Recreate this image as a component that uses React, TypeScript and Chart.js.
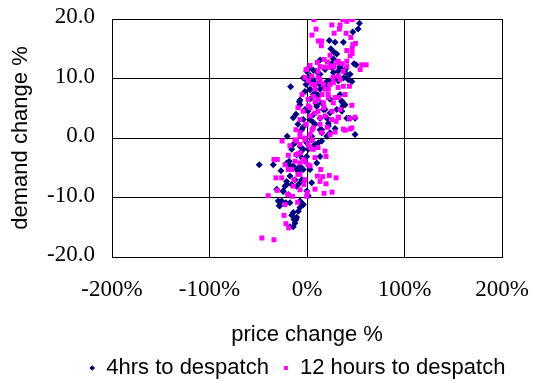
import { useEffect, useRef } from 'react';
import { Chart, registerables } from 'chart.js';

Chart.register(...registerables);

const SANS = "'Liberation Sans', Arial, sans-serif";
const SERIF = "'Liberation Serif', 'Times New Roman', serif";

const seriesNames = ['4hrs to despatch', '12 hours to despatch'];
const xTickValues = [-200, -100, 0, 100, 200];
const yTickValues = [-20, -10, 0, 10, 20];

// [price change %, demand change %]
const fourHrsPoints: [number, number][] = [
  [53.8, 19.3], [52.4, 18.3], [47.0, 17.8], [22.9, 16.4], [28.8, 16.1], [37.3, 16.1], [24.4, 15.0], [27.8, 14.4],
  [30.5, 14.1], [27.0, 13.3], [13.4, 13.1], [25.0, 12.5], [25.0, 11.9], [33.9, 12.0], [48.3, 12.5], [50.4, 12.3],
  [2.4, 11.9], [6.5, 11.4], [-16.8, 8.6], [-7.2, 6.4], [-14.1, 3.4], [-20.3, 0.3], [49.3, 0.6], [42.5, 3.3],
  [49.3, 3.3], [36.7, 5.4], [35.7, 6.2], [-49.0, -4.5], [-34.6, -4.5], [-26.7, -5.5], [-18.2, -3.9], [-18.2, -4.5],
  [-31.1, -8.6], [-29.5, -10.6], [-27.8, -11.4], [-21.6, -10.9], [-17.5, -10.9], [-14.1, -12.5], [-8.9, -12.3],
  [-3.8, -11.2], [-10.6, -13.3], [-12.3, -14.3], [-14.1, -14.9], [-15.7, -13.0], [-13.4, -13.7], [-26.0, -10.6],
  [-28.5, -11.4], [-7.2, -11.7], [-4.4, -11.1], [-11.3, -13.7], [-17.5, -14.9], [-7.2, -10.6], [-24.4, -8.9],
  [1.3, -9.7], [-0.3, -8.9],
  [-3.8, 10.1], [1.3, 9.5], [6.5, 9.8], [11.6, 9.2], [15.1, 8.7], [3.1, 8.1], [-2.1, 7.8], [6.5, 7.3], [20.3, 9.5],
  [28.8, 10.0], [37.3, 10.1], [42.5, 9.8], [46.0, 9.5], [33.9, 7.3], [35.7, 6.1], [39.1, 5.6], [-7.9, 6.1],
  [-7.2, 5.6], [10.0, 5.3], [15.1, 5.9], [6.5, 3.9], [13.4, 3.3], [20.3, 3.3], [21.9, 2.5], [40.8, 3.3], [44.2, 3.3],
  [28.8, 1.6], [15.1, 1.4], [35.7, 4.5], [-14.1, -1.1], [-15.7, -1.9], [-7.2, -2.5], [1.3, -1.9], [6.5, -1.4],
  [11.6, -0.8], [15.1, -0.5], [20.3, 0.3], [23.6, 0.9], [15.1, 0.9], [4.8, 0.3], [-2.1, -3.9], [-7.2, -4.7],
  [-10.6, -5.3], [3.1, -5.3], [4.8, -7.5], [-5.4, -7.0], [-15.7, -7.8], [-20.9, -7.3], [-10.6, -8.1], [10.0, -4.2],
  [13.4, -3.1], [-20.9, -4.2], [-22.6, -8.1],
  [13.4, 10.7], [18.5, 11.5], [9.3, 11.2], [31.9, 11.2], [39.1, 11.5], [44.2, 10.7], [3.1, 10.5], [-1.0, 9.8],
  [-2.1, 4.8], [3.1, 3.1], [8.2, 2.3], [-9.3, 2.3], [-4.1, 1.8], [18.5, 4.8], [23.6, 6.5], [11.3, 7.2],
  [-11.3, 4.0], [1.0, 4.5],
  [-0.3, 11.2], [3.1, 10.4], [6.5, 9.6], [-1.0, 9.0], [3.1, 8.2], [8.2, 7.6], [13.4, 8.2], [18.5, 8.7],
  [23.6, 9.6], [27.0, 11.0], [33.9, 11.8], [39.1, 11.0], [40.8, 10.1], [32.2, 9.6], [3.1, 6.5], [10.0, 5.6],
  [16.8, 4.8], [23.6, 4.2], [30.5, 4.8], [-0.3, 4.8], [-3.8, 3.1], [6.5, 2.6], [13.4, 1.4], [21.9, 2.0],
  [-5.4, 1.4],
  [-12.3, -0.8], [-7.2, -1.4], [-3.8, -1.9], [-0.3, -0.8], [4.8, -0.3], [8.2, -1.1], [-10.6, -2.8], [-5.4, -3.3],
  [-0.3, -3.1], [-14.1, -4.7], [-8.9, -5.6], [-3.8, -5.3], [-17.5, -6.4], [-12.3, -7.0], [-7.2, -7.5],
  [-20.9, -7.8], [-24.4, -9.0], [-19.2, -9.5],
];

const twelveHoursPoints: [number, number][] = [
  [7.2, 19.9], [36.7, 19.9], [40.8, 19.6], [46.3, 19.9], [25.4, 19.0], [33.9, 19.0], [9.3, 18.3], [27.8, 17.6],
  [33.2, 18.3], [40.1, 17.6], [5.1, 17.3], [44.9, 16.9], [11.6, 16.3], [15.1, 16.3], [14.7, 15.5], [49.7, 15.9],
  [40.8, 14.7], [46.3, 15.0], [46.3, 14.2], [44.2, 13.8], [17.5, 13.2], [20.9, 12.8], [10.6, 12.7], [13.4, 12.0],
  [56.2, 12.3], [60.7, 12.3], [54.5, 11.5], [35.7, 12.5], [40.8, 12.0], [18.5, 11.9], [47.0, 15.7],
  [37.3, 8.7], [43.5, 8.7], [46.0, 5.5], [49.3, 3.5], [43.5, 3.3], [44.2, 1.5], [37.3, 1.5], [46.0, 1.7],
  [28.8, 1.0], [39.1, 1.3],
  [-2.1, 10.2], [5.1, 9.0], [11.3, 10.2], [18.5, 8.2], [23.6, 9.0], [31.9, 8.5], [-5.1, 7.3], [1.0, 6.5],
  [8.2, 6.1], [15.4, 7.3], [21.6, 7.3], [28.8, 6.8], [-4.1, 4.5], [3.1, 5.1], [11.3, 4.5], [17.5, 5.1],
  [25.7, 4.5], [31.9, 3.5], [-7.2, 3.1], [-1.0, 2.3], [5.1, 1.4], [13.4, 2.3], [20.6, 1.8], [29.8, 2.8],
  [8.2, 8.2], [13.4, 9.5], [26.7, 10.2], [33.9, 9.8], [39.1, 7.3], [33.9, 4.8], [-9.3, 5.1], [-11.3, 1.4],
  [-25.6, -0.5], [-30.5, -3.6], [-33.9, -3.6], [22.9, -6.3], [29.8, -6.7], [19.5, -7.7], [19.5, -3.1],
  [18.5, -2.2], [14.1, -5.3], [8.2, -8.6], [17.5, -9.3], [25.7, -9.1], [16.1, -6.5], [10.6, -6.4], [13.4, -7.3],
  [-17.5, -1.3], [-19.2, -2.9], [-31.9, -6.7], [-26.0, -6.7], [-30.5, -8.8], [-14.7, -9.8], [-0.3, -9.8],
  [0.3, -9.2], [-39.8, -9.7], [-22.6, -11.2], [-23.6, -13.0], [-21.6, -14.4], [-18.8, -15.1], [-9.6, -10.8],
  [-46.3, -16.8], [-33.9, -17.1],
  [-12.3, -0.3], [-7.2, -1.1], [-2.1, -0.3], [3.1, -1.6], [-11.3, -2.8], [-4.1, -3.6], [-17.5, -5.3],
  [-9.3, -6.1], [1.0, -4.5], [8.2, -3.3], [-22.6, -4.5], [-13.4, -7.0], [-3.1, -7.8], [5.1, -0.3], [11.3, -1.6],
  [-7.2, -8.7], [-19.5, -9.5],
  [3.1, 12.2], [-1.0, 11.5], [11.3, 11.2], [21.6, 11.9], [27.8, 11.9], [31.9, 12.9], [23.6, 13.9],
  [-0.3, 11.5], [4.8, 10.4], [1.3, 9.6], [8.2, 9.0], [13.4, 9.8], [16.8, 9.0], [21.9, 8.2], [27.0, 9.3],
  [32.2, 10.4], [37.3, 11.2], [40.8, 12.9], [30.5, 12.7], [25.4, 12.1], [6.5, 7.0], [11.6, 6.5], [16.8, 5.9],
  [21.9, 6.8], [27.0, 5.9], [32.2, 6.8], [1.3, 5.4], [3.1, 3.7], [8.2, 4.2], [13.4, 3.4], [18.5, 3.7],
  [25.4, 3.1], [32.2, 3.4], [-1.0, 2.3], [6.5, 1.7], [15.1, 0.9], [23.6, 0.6], [-7.2, 0.3],
  [-7.2, 0.9], [-2.1, 0.0], [3.1, 0.6], [-10.6, -0.5], [1.3, -1.1], [6.5, -1.9], [-7.2, -2.5], [-2.1, -3.9],
  [3.1, -4.7], [-12.3, -3.9], [-15.7, -5.3], [-7.2, -6.1], [-2.1, -7.0], [-14.1, -8.1], [-19.2, -5.3],
  [-7.2, -4.2],
];

export default function App() {
  const ref = useRef<HTMLCanvasElement>(null);

  useEffect(() => {
    document.body.style.margin = '0';
    const canvas = ref.current;
    if (!canvas) return;
    const chart = new Chart(canvas, {
      type: 'scatter',
      data: {
        datasets: [
          {
            label: seriesNames[0],
            data: fourHrsPoints.map(([x, y]) => ({ x, y })),
            backgroundColor: '#000080',
            borderColor: '#000080',
            pointStyle: 'rectRot',
            pointRadius: 3.5,
            borderWidth: 0,
            order: 1,
          },
          {
            label: seriesNames[1],
            data: twelveHoursPoints.map(([x, y]) => ({ x, y })),
            backgroundColor: '#FF00FF',
            borderColor: '#FF00FF',
            pointStyle: 'rect',
            pointRadius: 3.5,
            borderWidth: 0,
            order: 0,
          },
        ],
      },
      options: {
        animation: false,
        responsive: true,
        maintainAspectRatio: false,
        layout: { padding: { left: 0, top: 19, right: 14.6, bottom: -6 } },
        plugins: {
          tooltip: { enabled: false },
          legend: {
            position: 'bottom',
            align: 'end',
            labels: {
              usePointStyle: true,
              boxWidth: 6,
              boxHeight: 4,
              padding: 14,
              color: '#000',
              font: { family: SANS, size: 22 },
              sort: (a: any, b: any) => a.datasetIndex - b.datasetIndex,
            },
          },
        },
        scales: {
          x: {
            type: 'linear',
            min: xTickValues[0],
            max: xTickValues[xTickValues.length - 1],
            afterBuildTicks: (s: any) => { s.ticks = xTickValues.map((v) => ({ value: v })); },
            afterFit: (s: any) => { s.height = 86; },
            ticks: {
              callback: (v: any) => `${v}%`,
              color: '#000',
              font: { family: SERIF, size: 23 },
              padding: 0,
              maxRotation: 0,
              autoSkip: false,
            },
            grid: { color: '#000', lineWidth: 1, drawTicks: true, tickLength: 19, tickColor: 'rgba(0,0,0,0)' },
            border: { color: '#000', width: 1 },
            title: {
              display: true,
              text: 'price change %',
              color: '#000',
              font: { family: SANS, size: 22 },
              padding: { top: 0, bottom: -5 },
            },
          },
          y: {
            type: 'linear',
            position: 'left',
            min: yTickValues[0],
            max: yTickValues[yTickValues.length - 1],
            afterBuildTicks: (s: any) => { s.ticks = yTickValues.map((v) => ({ value: v })); },
            afterFit: (s: any) => { s.width = 112; },
            ticks: {
              callback: (v: any) => Number(v).toFixed(1),
              color: '#000',
              font: { family: SERIF, size: 23 },
              padding: 0,
              labelOffset: -2,
            },
            grid: { color: '#000', lineWidth: 1, drawTicks: true, tickLength: 17, tickColor: 'rgba(0,0,0,0)' },
            border: { color: '#000', width: 1 },
            title: {
              display: true,
              text: 'demand change %',
              color: '#000',
              font: { family: SANS, size: 22 },
              padding: { top: 8, bottom: 0 },
            },
          },
          spacer: {
            type: 'linear',
            position: 'right',
            display: true,
            grid: { display: false, drawTicks: false },
            border: { display: false },
            ticks: { display: false, padding: 0 },
            afterFit: (s: any) => { s.width = 17.4; },
          },
        },
      },
    });
    return () => chart.destroy();
  }, []);

  return (
    <div style={{ width: 534, height: 383, position: 'relative' }}>
      <canvas ref={ref} />
    </div>
  );
}
